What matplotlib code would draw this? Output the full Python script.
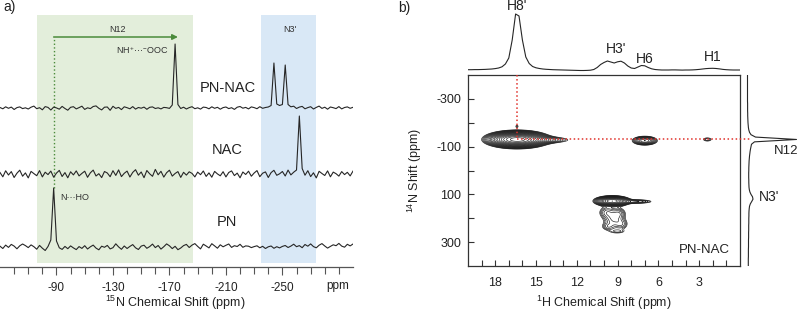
import numpy as np
import matplotlib
matplotlib.use('Agg')
import matplotlib.pyplot as plt
from matplotlib.ticker import FixedLocator

plt.rcParams['font.family'] = ['Liberation Sans', 'DejaVu Sans']
plt.rcParams['mathtext.fontset'] = 'custom'
plt.rcParams['mathtext.rm'] = 'Liberation Sans'
plt.rcParams['mathtext.it'] = 'Liberation Sans:italic'
plt.rcParams['mathtext.bf'] = 'Liberation Sans:bold'
plt.rcParams['mathtext.default'] = 'rm'
plt.rcParams['axes.unicode_minus'] = False

# ---------------- data: panel a (15N spectra, 2 ppm steps from -50 to -300 ppm) -------------
shift_15n = np.arange(-50, -301, -2)

pn_nac = np.array([
    0.5, -0.8, 1.2, -0.3, 0.9, -1.5, 0.4, 1.1, -0.6, 0.2,
    -1.0, 0.8, 1.9, -0.7, 0.3, -1.8, 1.4, 0.6, -2.0, 0.9,
    0.1, -1.2, 1.6, -0.5, -2.2, 0.7, 1.3, -0.9, 0.4, 1.8,
    -1.4, 0.2, -0.6, 1.5, 2.1, -0.3, -1.9, 0.8, 1.0, -2.3,
    1.7, -0.4, 0.6, -1.6, 1.2, 0.3, -0.8, 1.4, -1.1, 0.5,
    -0.2, 0.9, -1.3, 0.7, 1.1, -0.5, 0.2, -0.9, 0.6, 0.3,
    -0.4, 3.0, 64.0, 3.5, -0.5, 0.8, -1.0, 0.4, 1.3, -0.7,
    0.2, -1.1, 0.9, 0.5, -0.8, 1.2, -0.3, 0.7, -1.2, 0.4,
    1.0, -0.6, 0.3, -1.4, 0.8, 1.5, -0.2, 0.6, -0.9, 1.1,
    0.4, -0.7, 1.3, -0.3, 0.5, 1.0, 2.5, 45.0, 4.0, 2.5,
    3.5, 43.0, 3.5, 1.2, 1.8, -0.5, 0.9, 1.6, -0.8, 0.4,
    1.3, -1.0, 0.6, 1.9, -0.4, 0.8, -1.2, 1.0, 0.3, -0.6,
    1.4, -0.9, 0.5, 1.1, -0.3, 0.7])

nac = np.array([
    1.5, -2.8, 3.2, -1.0, 2.4, -3.5, 0.8, 3.8, -2.2, 1.1,
    -3.9, 2.6, 0.4, -1.7, 3.4, -2.9, 1.8, -0.6, 2.9, -3.2,
    0.9, 3.6, -2.5, 1.4, -3.8, 2.2, -0.9, 3.1, -1.9, 0.6,
    2.8, -3.3, 1.2, 3.9, -2.0, 0.3, -3.6, 2.5, 1.0, -2.7,
    3.3, -1.4, 4.1, -2.6, 0.7, 2.9, -3.0, 1.6, 4.3, -1.2,
    2.0, -3.7, 3.5, 0.2, -2.3, 4.6, -0.8, 2.7, -3.1, 1.3,
    3.8, -2.1, 0.5, 2.4, -3.4, 1.7, -1.1, 2.2, 0.6, -2.9,
    1.9, -0.7, 3.0, -2.4, 1.1, -3.2, 2.6, 0.1, -1.8, 2.3,
    -2.9, 1.5, 3.1, -1.6, 0.9, -3.8, 2.0, -0.5, 2.8, -2.2,
    1.0, 3.4, -2.7, 0.8, 2.1, -3.5, 1.4, 3.7, -1.3, 0.2,
    2.5, -2.0, 3.9, -0.9, 1.8, 4.0, 58.0, 5.5, -1.2, 3.3,
    -2.6, 1.2, -3.9, 2.7, 0.5, -1.5, 3.1, -2.8, 1.9, 0.3,
    -2.1, 2.4, -0.6, 1.7, -1.9, 2.9])

pn = np.array([
    0.8, -1.5, 1.9, -0.4, 2.6, 0.9, -1.8, 1.2, 3.0, 1.4,
    -0.6, 2.1, 0.3, -2.2, 1.6, -1.2, -3.5, 0.5, 7.0, 59.0,
    6.0, -0.8, -2.4, 0.6, -1.7, 1.1, -0.9, -2.6, 0.4, -1.4,
    1.3, -2.0, 0.2, 1.9, -1.1, -2.8, 0.8, -0.3, 1.6, -1.9,
    -0.7, 3.2, 0.1, -2.3, 1.0, -1.5, 0.6, 2.4, -0.8, -2.5,
    0.9, 1.8, -1.3, 0.4, 2.9, -0.6, 1.5, -2.1, 0.3, 3.1,
    1.2, -1.6, 0.7, -2.7, -1.0, 1.4, 2.6, -0.5, 1.9, 3.4,
    0.6, -1.9, 2.8, 1.0, -0.9, 3.3, 1.1, -1.2, 2.2, 0.2,
    1.7, 3.0, -0.4, 1.3, 0.5, 2.7, -0.3, 1.1, 0.8, -0.6,
    0.4, 1.2, -0.8, 0.7, -1.5, 0.2, 1.0, -1.3, 0.3, -0.9,
    0.6, 1.5, -0.5, 0.9, 2.8, 0.3, 1.4, -0.7, 2.5, 0.8,
    3.1, 0.4, -0.8, 1.8, 3.4, 1.0, -1.1, 0.6, 2.2, 1.3,
    3.6, 0.9, -0.2, 2.7, 1.1, 3.0])

trace_names = ['PN-NAC', 'NAC', 'PN']
n12_region = (-76, -187)
n3_region = (-235, -274)
a_major_ticks = [-90, -130, -170, -210, -250]

# ---------------- data: panel b ----------------
shift_1h = np.arange(20, -0.01, -0.25)
proj_1h = np.array([
    0.3, 0.3, 0.4, 0.4, 0.5, 0.6, 0.8, 1.0, 1.4, 2.0,
    3.2, 6.0, 12.0, 30.0, 56.0, 54.0, 30.0, 13.0, 6.5, 3.5,
    2.2, 1.5, 1.0, 0.7, 0.5, 0.3, 0.2, 0.1, 0.0, -0.1,
    -0.2, -0.3, -0.4, -0.5, -0.5, -0.4, -0.2, 0.5, 2.5, 5.5,
    7.5, 9.0, 8.0, 7.0, 8.2, 8.8, 7.0, 4.0, 2.0, 1.5,
    3.0, 4.5, 4.2, 2.5, 1.2, 0.5, 0.2, 0.0, 0.0, 0.0,
    0.1, 0.1, 0.0, -0.1, 0.0, 0.0, 0.1, 0.3, 0.6, 1.0,
    1.4, 1.6, 1.7, 1.5, 1.1, 0.6, 0.3, 0.1, 0.0, 0.0,
    0.0])

shift_14n = np.arange(-400, 401, 10)
proj_14n = np.array([
    0.0, 0.0, 0.0, 0.0, 0.0, 0.0, 0.0, 0.0, 0.0, 0.0,
    0.0, 0.0, 0.1, 0.1, 0.1, 0.1, 0.2, 0.2, 0.3, 0.4,
    0.5, 0.7, 0.9, 1.3, 2.0, 3.5, 8.0, 49.0, 7.0, 4.0,
    3.5, 3.0, 2.6, 2.3, 2.0, 1.8, 1.6, 1.5, 1.4, 1.3,
    1.3, 1.2, 1.2, 1.2, 1.3, 1.3, 1.4, 1.5, 1.8, 2.4,
    3.5, 5.0, 5.5, 4.2, 2.8, 2.0, 1.7, 1.5, 1.4, 1.4,
    1.3, 1.3, 1.3, 1.2, 1.2, 1.2, 1.1, 1.1, 1.1, 1.0,
    1.0, 1.0, 1.0, 0.9, 0.9, 0.9, 0.9, 0.8, 0.8, 0.8,
    0.8])

# cross peaks of the 2D map: 1H centre, 14N centre, amplitude, 1H width, 14N width
peak_h = [16.4, 15.0, 16.4, 7.0, 2.4, 9.4, 7.6,
          9.3, 9.8, 8.9, 9.3, 9.7, 8.7, 9.0]
peak_n = [-130, -128, -185, -125, -130, 128, 130,
          200, 175, 180, 205, 235, 225, 255]
peak_amp = [100, 8, 2.2, 15, 3, 45, 5,
            1.8, 3.5, 3.2, 3.0, 2.6, 2.8, 2.0]
peak_wh = [0.9, 1.3, 0.1, 0.44, 0.25, 0.55, 0.7,
           0.6, 0.35, 0.3, 0.4, 0.3, 0.3, 0.4]
peak_wn = [14, 8, 6, 9, 6, 9, 5,
           40, 15, 14, 18, 10, 14, 6]

b_xticks = [18, 15, 12, 9, 6, 3]
b_yticks = [-300, -100, 100, 300]

# ---------------- figure ----------------
W, H = 799, 311
fig = plt.figure(figsize=(W / 100, H / 100), dpi=100)


def rect(x0, y0, x1, y1):
    return [x0 / W, 1 - y1 / H, (x1 - x0) / W, (y1 - y0) / H]


def ftext(x, y, s, **kw):
    kw.setdefault('ha', 'center')
    kw.setdefault('va', 'center')
    kw.setdefault('color', '#222222')
    fig.text(x / W, 1 - y / H, s, **kw)


green = '#4b8b3b'
line_c = '#262626'

# ---- panel a ----
ax = fig.add_axes(rect(0, 12, 353, 267))
ax.set_xlim(-50, -300)
ax.set_ylim(0, 255)
ax.axvspan(*n12_region, ymin=4 / 255, ymax=252 / 255, color='#e3eedb', lw=0, zorder=0)
ax.axvspan(*n3_region, ymin=4 / 255, ymax=252 / 255, color='#d9e8f6', lw=0, zorder=0)
offsets = [159, 93, 20]
for tr, off in zip([pn_nac, nac, pn], offsets):
    ax.plot(shift_15n, tr + off, color=line_c, lw=0.8, zorder=3)

ax.plot([-88, -88], [79, 230], ls=':', color=green, lw=1.0, zorder=2)
ax.annotate('', xy=(-176, 230), xytext=(-88, 230),
            arrowprops=dict(arrowstyle='-|>', color=green, lw=1.1,
                            mutation_scale=8, shrinkA=0, shrinkB=0))
ax.text(-133.5, 238, 'N12', ha='center', va='center', fontsize=6.5, color='#333333')
ax.text(-255, 238, "N3'", ha='center', va='center', fontsize=6.5, color='#333333')
ax.text(-150.5, 217, 'NH$^{+}$···$^{-}$OOC', ha='center', va='center', fontsize=6.5, color='#333333')
ax.text(-103, 70, 'N···HO', ha='center', va='center', fontsize=6.5, color='#333333')
label_y = [179, 117, 45]
for name, ly in zip(trace_names, label_y):
    ax.text(-211, ly, name, ha='center', va='center', fontsize=10.5, color='#222222')

ax.set_xticks(a_major_ticks)
ax.xaxis.set_minor_locator(FixedLocator([v for v in range(-60, -291, -10) if v not in a_major_ticks]))
ax.tick_params(axis='x', which='both', direction='out', color='#555555', width=0.8,
               labelsize=8.5, labelcolor='#222222')
ax.tick_params(axis='x', which='major', length=6, pad=5)
ax.tick_params(axis='x', which='minor', length=5)
ax.yaxis.set_visible(False)
for s in ['left', 'top', 'right']:
    ax.spines[s].set_visible(False)
ax.spines['bottom'].set_color('#555555')
ax.spines['bottom'].set_linewidth(0.9)
ax.patch.set_alpha(0)

ftext(338, 286, 'ppm', fontsize=8.5)
ftext(175, 302.5, '$^{15}$N Chemical Shift (ppm)', fontsize=9)
ftext(10, 7, 'a)', fontsize=10)

# ---- panel b: 2D map ----
axb = fig.add_axes(rect(468, 75, 740, 266))
hh = np.linspace(0, 20, 501)
nn = np.linspace(-400, 400, 501)
HH, NN = np.meshgrid(hh, nn)
Z = np.zeros_like(HH)
for ph, pnn, pa, wh, wn in zip(peak_h, peak_n, peak_amp, peak_wh, peak_wn):
    Z += pa * np.exp(-0.5 * ((HH - ph) / wh) ** 2 - 0.5 * ((NN - pnn) / wn) ** 2)
levels = 1.6 * 1.25 ** np.arange(20)
axb.contour(HH, NN, Z, levels=levels, colors='#1a1a1a', linewidths=0.45)
axb.set_xlim(20, 0)
axb.set_ylim(400, -400)
axb.plot([16.4, 16.4], [-400, -130], ls=':', color='#e0302a', lw=1.1, zorder=4)
axb.plot([16.4, -0.75], [-130, -130], ls=':', color='#e0302a', lw=1.1, zorder=4, clip_on=False)
axb.text(2.6, 333, 'PN-NAC', ha='center', va='center', fontsize=9.5, color='#222222')
axb.set_xticks(b_xticks)
axb.set_yticks(b_yticks)
axb.xaxis.set_minor_locator(FixedLocator([v for v in range(1, 20) if v not in b_xticks]))
axb.yaxis.set_minor_locator(FixedLocator([-200, 0, 200]))
axb.tick_params(which='both', direction='in', length=4, width=0.8, color='#333333',
                labelsize=9, labelcolor='#222222')
axb.tick_params(axis='x', which='major', pad=8)
axb.tick_params(axis='y', which='major', pad=5)
for s in axb.spines.values():
    s.set_color('#333333')
    s.set_linewidth(0.9)

# top projection
axt = fig.add_axes(rect(468, 10, 740, 73))
axt.plot(shift_1h, proj_1h, color=line_c, lw=0.8)
axt.set_xlim(20, 0)
axt.set_ylim(-3, 60)
axt.axis('off')

# right projection
axr = fig.add_axes(rect(745, 75, 799, 266))
axr.plot(proj_14n, shift_14n, color=line_c, lw=0.8)
axr.set_ylim(400, -400)
axr.set_xlim(-2.5, 51.5)
axr.axis('off')

ftext(517, 6, "H8'", fontsize=10)
ftext(616, 49, "H3'", fontsize=10)
ftext(645, 59, 'H6', fontsize=10)
ftext(713, 57, 'H1', fontsize=10)
ftext(786, 151, 'N12', fontsize=9.5)
ftext(769, 197, "N3'", fontsize=10)
ftext(404, 8, 'b)', fontsize=10)
ftext(415, 170, '$^{14}$N Shift (ppm)', fontsize=9, rotation=90)
ftext(604, 302.5, '$^{1}$H Chemical Shift (ppm)', fontsize=9)

fig.savefig('out.png', dpi=100)
